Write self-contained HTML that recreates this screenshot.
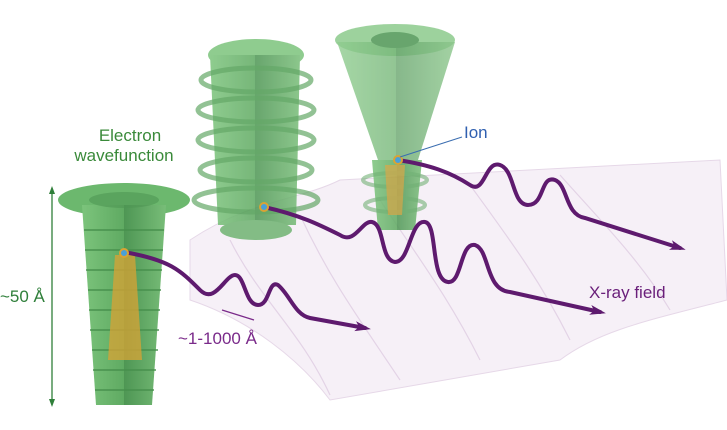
<!DOCTYPE html>
<html><head><style>
body{margin:0;background:#fff;width:727px;height:430px;overflow:hidden}
svg{display:block}
text{font-family:"Liberation Sans",sans-serif}
</style></head><body>
<svg width="727" height="430" viewBox="0 0 727 430">
<defs>
<linearGradient id="g" x1="0" x2="1">
<stop offset="0" stop-color="#7cc47c"/><stop offset="0.5" stop-color="#5faa62"/><stop offset="0.5" stop-color="#4e9654"/><stop offset="1" stop-color="#78bd78"/>
</linearGradient>
<marker id="ga" markerUnits="userSpaceOnUse" markerWidth="8" markerHeight="8" refX="4" refY="4" orient="auto-start-reverse"><path d="M0,1 L8,4 L0,7z" fill="#2f7f3a"/></marker>
<marker id="pa" markerUnits="userSpaceOnUse" markerWidth="16" markerHeight="12" refX="10" refY="6" orient="auto"><path d="M0,1 L16,6 L0,11 L4,6z" fill="#5e1a6e"/></marker>
</defs>
<!-- sheets -->
<g fill="#f6f0f7" stroke="#e6d8e8" stroke-width="1">
<path d="M190,240 C250,200 300,200 340,180 L720,160 L727,300 C650,320 600,330 560,360 L330,400 C300,360 250,320 190,300Z"/>
</g>
<g fill="none" stroke="#e3d3e6" stroke-width="1.2">
<path d="M230,240 C260,300 300,330 330,395"/>
<path d="M300,215 C330,280 360,320 400,380"/>
<path d="M380,200 C420,260 450,300 480,360"/>
<path d="M470,185 C510,240 540,280 570,340"/>
<path d="M560,175 C600,220 640,260 670,310"/>
</g>
<!-- middle cone -->
<g opacity="0.85">
<ellipse cx="256" cy="55" rx="48" ry="16" fill="#7cc47c"/>
<path d="M210,55 L300,55 L296,225 L218,225Z" fill="url(#g)"/>
<g fill="none" stroke="#4a9a4e" stroke-width="5" opacity="0.7">
<ellipse cx="256" cy="80" rx="55" ry="12"/><ellipse cx="256" cy="110" rx="58" ry="12"/><ellipse cx="256" cy="140" rx="58" ry="12"/><ellipse cx="256" cy="170" rx="56" ry="12"/><ellipse cx="256" cy="200" rx="62" ry="12"/>
</g>
<ellipse cx="256" cy="230" rx="36" ry="10" fill="#6fb472"/>
</g>
<!-- right cone -->
<g opacity="0.85">
<ellipse cx="395" cy="40" rx="60" ry="16" fill="#8ccb8c"/>
<path d="M337,42 L455,42 L418,160 L378,160Z" fill="url(#g)" opacity="0.8"/>
<path d="M372,160 L422,160 L415,230 L378,230Z" fill="url(#g)"/>
<ellipse cx="395" cy="40" rx="24" ry="8" fill="#4e9654"/>
<g fill="none" stroke="#5aa55e" stroke-width="4" opacity="0.6">
<ellipse cx="395" cy="180" rx="32" ry="7"/><ellipse cx="395" cy="205" rx="30" ry="7"/>
</g>
<path d="M385,165 L405,165 L402,215 L388,215Z" fill="#d49a2a" opacity="0.7"/>
</g>
<!-- left cone -->
<g>
<ellipse cx="124" cy="200" rx="66" ry="17" fill="#6cb86e"/>
<path d="M82,205 L166,205 L152,405 L96,405Z" fill="url(#g)"/>
<g fill="none" stroke="#468f4c" stroke-width="2" opacity="0.7">
<path d="M84,230 h80 M85,250 h78 M86,270 h76 M88,290 h73 M89,310 h71 M90,330 h69 M92,350 h66 M93,370 h63 M95,390 h59"/>
</g>
<path d="M115,255 L135,255 L142,360 L108,360Z" fill="#d9a334" opacity="0.75"/>
<ellipse cx="124" cy="200" rx="35" ry="8" fill="#4e9654" opacity="0.6"/>
</g>
<!-- waves -->
<g fill="none" stroke="#5e1a6e" stroke-width="4" stroke-linecap="round">
<path d="M124,252 C170,260 180,270 200,290 C215,305 225,275 235,275 C245,275 245,305 258,305 C270,305 268,280 278,285 C290,295 295,315 310,318 L365,328" marker-end="url(#pa)"/>
<path d="M264,207 C300,215 320,225 340,235 C355,245 362,220 372,222 C385,225 380,260 395,262 C410,262 410,220 425,222 C438,224 430,280 448,282 C462,284 460,242 475,245 C490,250 485,290 510,292 L600,312" marker-end="url(#pa)"/>
<path d="M398,160 C430,165 450,172 470,185 C485,195 485,160 500,165 C515,170 512,205 528,205 C545,205 540,175 555,180 C568,185 565,215 585,218 L680,248" marker-end="url(#pa)"/>
</g>
<circle cx="124" cy="253" r="4" fill="#4aa0d8" stroke="#d9a334" stroke-width="2"/>
<circle cx="264" cy="207" r="4" fill="#4aa0d8" stroke="#d9a334" stroke-width="2"/>
<circle cx="398" cy="160" r="4" fill="#4aa0d8" stroke="#d9a334" stroke-width="2"/>
<line x1="400" y1="157" x2="462" y2="137" stroke="#3a6db0" stroke-width="1"/>
<!-- dimension arrows -->
<line x1="52" y1="190" x2="52" y2="403" stroke="#2f7f3a" stroke-width="1.3" marker-start="url(#ga)" marker-end="url(#ga)"/>
<line x1="222" y1="310" x2="254" y2="320" stroke="#7a2a8a" stroke-width="1.2"/>
<!-- labels -->
<text x="130" y="141" font-size="17" fill="#3a8a3a" text-anchor="middle">Electron</text>
<text x="124" y="161" font-size="17" fill="#3a8a3a" text-anchor="middle">wavefunction</text>
<text x="0" y="302" font-size="17" fill="#2f7f3a">~50 Å</text>
<text x="178" y="344" font-size="17" fill="#7a2a8a">~1-1000 Å</text>
<text x="464" y="138" font-size="17" fill="#2f5fb0">Ion</text>
<text x="589" y="298" font-size="17" fill="#6a1f7a">X-ray field</text>
</svg>
</body></html>
